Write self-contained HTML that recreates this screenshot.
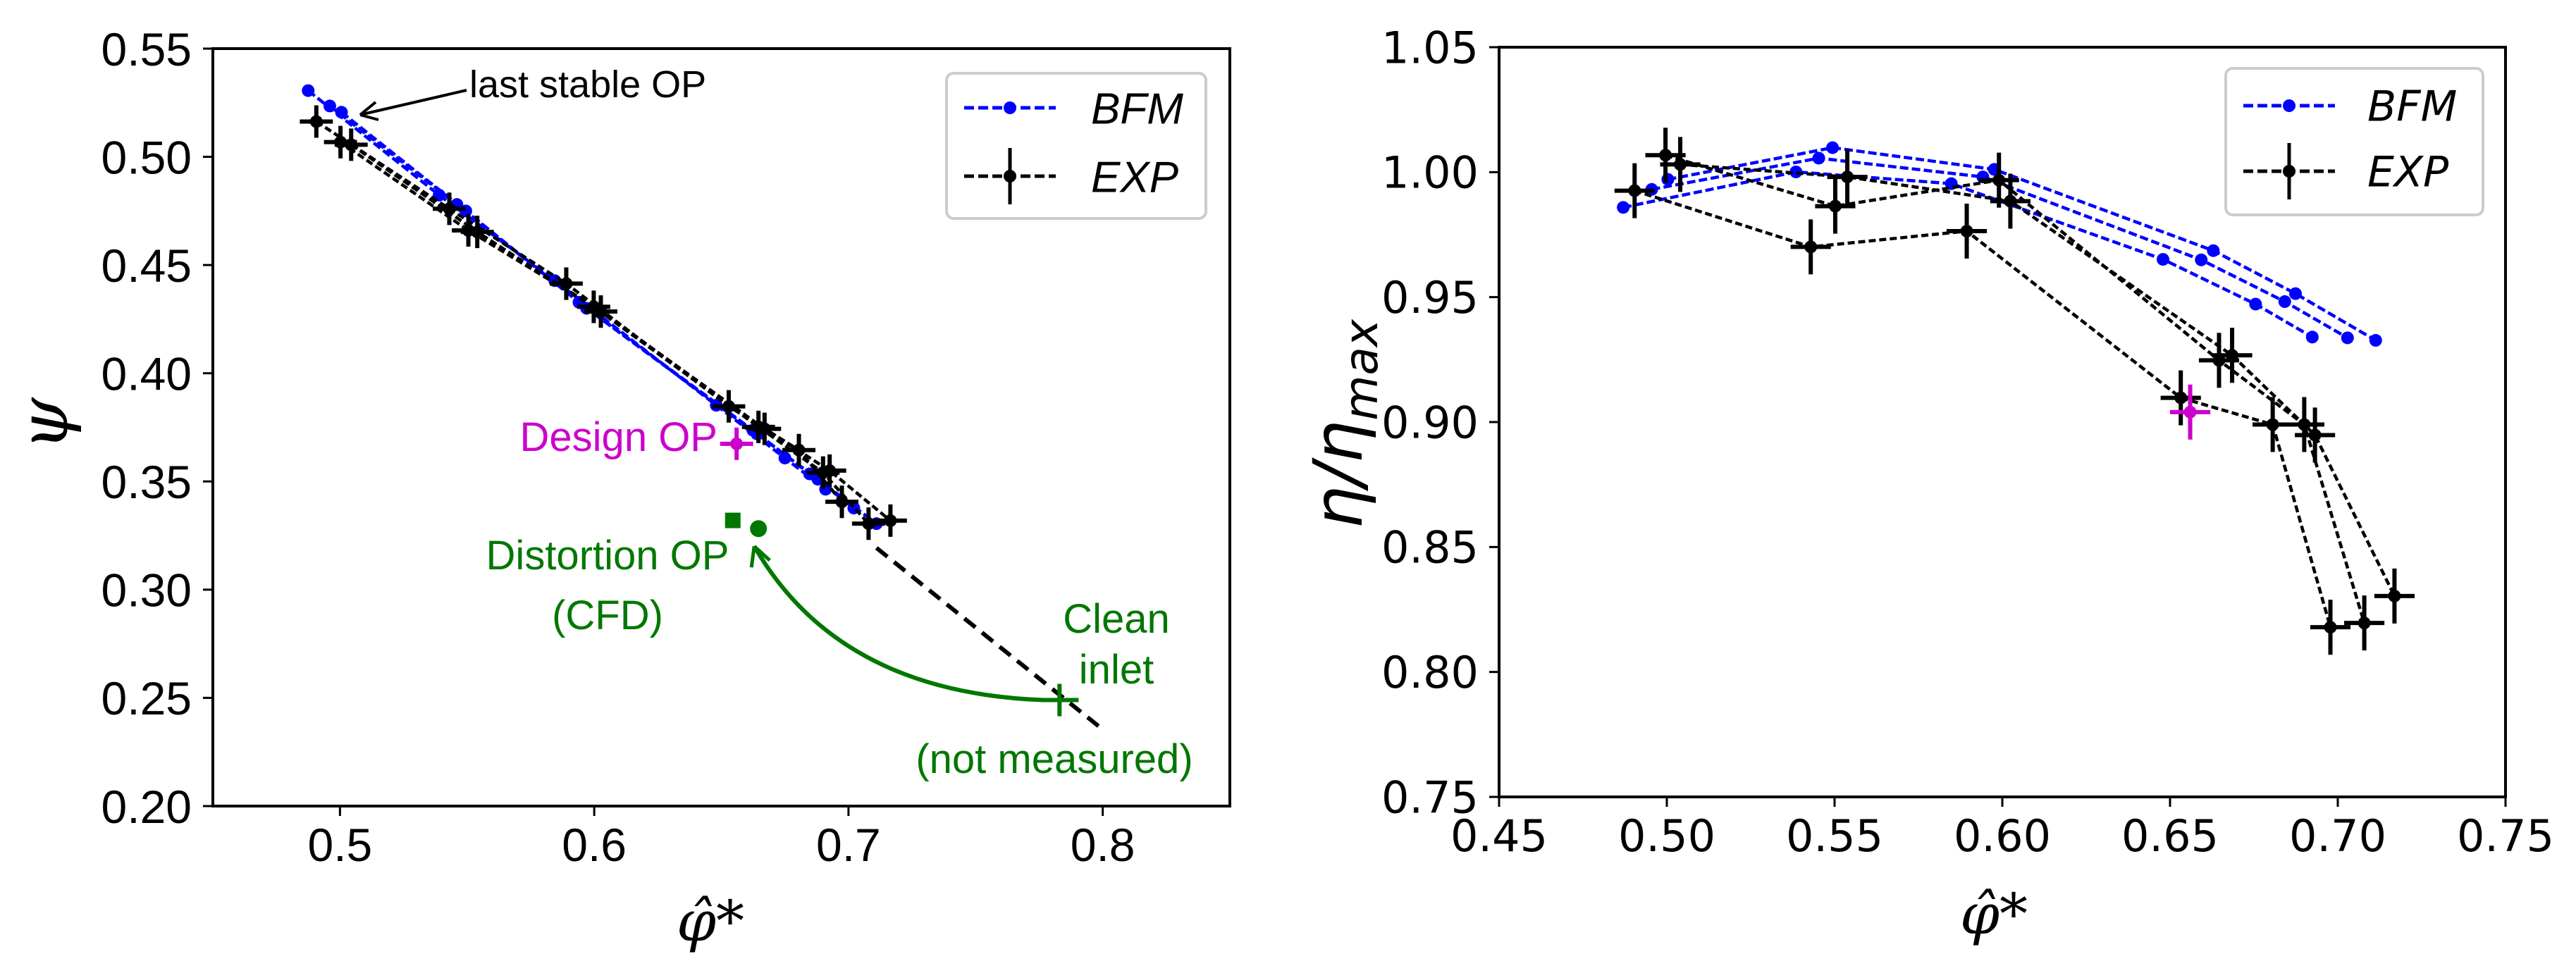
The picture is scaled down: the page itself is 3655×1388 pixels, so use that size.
<!DOCTYPE html>
<html><head><meta charset="utf-8">
<style>
html,body{margin:0;padding:0;background:#fff;}
svg{display:block;}
.tk{font-family:"Liberation Sans Narrow","Liberation Sans",sans-serif;}
.tk2{font-family:"DejaVu Sans","Liberation Sans",sans-serif;}
</style></head>
<body>
<svg id="fig" width="3655" height="1388" viewBox="0 0 3655 1388" xmlns="http://www.w3.org/2000/svg">
<g id="left"></g>
<g id="right"></g>
</svg>
<script>
// ---------- LEFT CHART DATA ----------
const leftXTicks = [0.5, 0.6, 0.7, 0.8];
const leftXTickLabels = ["0.5", "0.6", "0.7", "0.8"];
const leftYTicks = [0.20, 0.25, 0.30, 0.35, 0.40, 0.45, 0.50, 0.55];
const leftYTickLabels = ["0.20", "0.25", "0.30", "0.35", "0.40", "0.45", "0.50", "0.55"];
const leftBfmX1 = [0.4875, 0.539, 0.5845, 0.648, 0.675, 0.691];
const leftBfmY1 = [0.5306, 0.4823, 0.4428, 0.3852, 0.3608, 0.3464];
const leftBfmX2 = [0.496, 0.546, 0.594, 0.6624, 0.6847, 0.7021];
const leftBfmY2 = [0.5235, 0.478, 0.4328, 0.3737, 0.3535, 0.3377];
const leftBfmX3 = [0.5006, 0.5495, 0.597, 0.664, 0.688, 0.711];
const leftBfmY3 = [0.5206, 0.475, 0.430, 0.372, 0.351, 0.3305];
const leftExpXA = [0.4907, 0.543, 0.589, 0.6529, 0.6805, 0.6974];
const leftExpYA = [0.5163, 0.476, 0.4414, 0.3847, 0.3645, 0.3406];
const leftExpXB = [0.5002, 0.5505, 0.5998, 0.6646, 0.690, 0.7079];
const leftExpYB = [0.5068, 0.466, 0.4307, 0.3752, 0.3541, 0.3305];
const leftExpXC = [0.5044, 0.554, 0.6026, 0.667, 0.6926, 0.7165];
const leftExpYC = [0.5056, 0.4653, 0.4285, 0.3743, 0.3550, 0.3319];
const leftDesignOP = [0.656, 0.3674];
const leftDistSquare = [0.6545, 0.332];
const leftDistCircle = [0.6646, 0.3282];
const leftClean = [0.783, 0.249];
const leftCleanLineX = [0.711, 0.8];
const leftCleanLineY = [0.3193, 0.2354];

// ---------- RIGHT CHART DATA ----------
const rightXTicks = [0.45, 0.50, 0.55, 0.60, 0.65, 0.70, 0.75];
const rightXTickLabels = ["0.45", "0.50", "0.55", "0.60", "0.65", "0.70", "0.75"];
const rightYTicks = [0.75, 0.80, 0.85, 0.90, 0.95, 1.00, 1.05];
const rightYTickLabels = ["0.75", "0.80", "0.85", "0.90", "0.95", "1.00", "1.05"];
const rightBfmX1 = [0.487, 0.5385, 0.5848, 0.6479, 0.6755, 0.6924];
const rightBfmY1 = [0.9859, 1.0001, 0.9954, 0.9651, 0.9472, 0.934];
const rightBfmX2 = [0.4955, 0.5453, 0.5942, 0.6593, 0.6842, 0.7029];
const rightBfmY2 = [0.9931, 1.0056, 0.9981, 0.9649, 0.9482, 0.9337];
const rightBfmX3 = [0.5003, 0.5494, 0.5976, 0.6629, 0.6874, 0.7113];
const rightBfmY3 = [0.9971, 1.0098, 1.0011, 0.9686, 0.9514, 0.9327];
const rightExpXA = [0.4904, 0.5429, 0.5894, 0.6532, 0.6806, 0.6978];
const rightExpYA = [0.9926, 0.9701, 0.9764, 0.9097, 0.899, 0.8179];
const rightExpXB = [0.4996, 0.5502, 0.599, 0.6646, 0.690, 0.7079];
const rightExpYB = [1.0068, 0.9864, 0.9968, 0.9247, 0.899, 0.8196];
const rightExpXC = [0.504, 0.5538, 0.6024, 0.6685, 0.6932, 0.7169];
const rightExpYC = [1.0031, 0.9981, 0.9884, 0.9267, 0.8948, 0.8304];
const rightDesignOP = [0.656, 0.904];

const NS = "http://www.w3.org/2000/svg";
function mk(parent, tag, attrs, text) {
  const e = document.createElementNS(NS, tag);
  for (const k in attrs) e.setAttribute(k, attrs[k]);
  if (text !== undefined) e.textContent = text;
  parent.appendChild(e);
  return e;
}
function lin(d0, d1, r0, r1) { return v => r0 + (v - d0) / (d1 - d0) * (r1 - r0); }

function drawAxes(g, box, sx, sy, xt, xtl, yt, ytl, cls, fs, xLabY, yLabX) {
  const r = mk(g, 'rect', {x: box.l, y: box.t, width: box.r - box.l, height: box.b - box.t, fill: 'none', stroke: '#000', 'stroke-width': 4});
  
  
  xt.forEach((v, i) => {
    const x = sx(v);
    const t = mk(g, 'line', {x1: x, y1: box.b, x2: x, y2: box.b + 14, stroke: '#000', 'stroke-width': 3});
    
    
    const l = mk(g, 'text', {x: x, y: xLabY, 'text-anchor': 'middle', 'font-size': fs, class: cls}, xtl[i]);
    
    
  });
  yt.forEach((v, i) => {
    const y = sy(v);
    const t = mk(g, 'line', {x1: box.l - 14, y1: y, x2: box.l, y2: y, stroke: '#000', 'stroke-width': 3});
    
    
    const l = mk(g, 'text', {x: yLabX, y: y + fs * 0.36, 'text-anchor': 'end', 'font-size': fs, class: cls}, ytl[i]);
    
    
  });
}
function series(g, xs, ys, sx, sy, color, dash, r, name) {
  const pts = xs.map((v, i) => sx(v) + ',' + sy(ys[i])).join(' ');
  const pl = mk(g, 'polyline', {points: pts, fill: 'none', stroke: color, 'stroke-width': 4.5, 'stroke-dasharray': dash});
  
  
  xs.forEach((v, i) => {
    const c = mk(g, 'circle', {cx: sx(v), cy: sy(ys[i]), r: r, fill: color});
    
    
  });
}
function errs(g, xs, ys, sx, sy, ex, ey, color, name) {
  xs.forEach((v, i) => {
    const x = sx(v), y = sy(ys[i]);
    const e1 = mk(g, 'line', {x1: sx(v - ex), y1: y, x2: sx(v + ex), y2: y, stroke: color, 'stroke-width': 6});
    
    
    const e2 = mk(g, 'line', {x1: x, y1: sy(ys[i] - ey), x2: x, y2: sy(ys[i] + ey), stroke: color, 'stroke-width': 6});
    
    
  });
}
function legend(g, x0, y0, w, h, lx1, lx2, tx, y1, y2, fs, cls) {
  const b = mk(g, 'rect', {x: x0, y: y0, width: w, height: h, rx: 10, fill: '#fff', stroke: '#ccc', 'stroke-width': 4});
  
  
  const l1 = mk(g, 'line', {x1: lx1, y1: y1, x2: lx2, y2: y1, stroke: '#00f', 'stroke-width': 5, 'stroke-dasharray': '14 6'});
  
  
  const c1 = mk(g, 'circle', {cx: (lx1 + lx2) / 2, cy: y1, r: 9, fill: '#00f'});
  
  
  const t1 = mk(g, 'text', {x: tx, y: y1 + fs * 0.36, 'font-size': fs, 'font-style': 'italic', class: cls}, 'BFM');
  
  
  const l2 = mk(g, 'line', {x1: lx1, y1: y2, x2: lx2, y2: y2, stroke: '#000', 'stroke-width': 5, 'stroke-dasharray': '14 6'});
  
  
  const m = (lx1 + lx2) / 2;
  const e1 = mk(g, 'line', {x1: m, y1: y2 - 40, x2: m, y2: y2 + 40, stroke: '#000', 'stroke-width': 5});
  
  
  const c2 = mk(g, 'circle', {cx: m, cy: y2, r: 9, fill: '#000'});
  
  
  const t2 = mk(g, 'text', {x: tx, y: y2 + fs * 0.36, 'font-size': fs, 'font-style': 'italic', class: cls}, 'EXP');
  
  
}

// ===== LEFT =====
(function () {
  const g = document.getElementById('left');
  const box = {l: 302, r: 1745, t: 69, b: 1144};
  const sx = lin(0.45, 0.85, box.l, box.r);
  const sy = lin(0.55, 0.20, box.t, box.b);
  const cl = mk(g, 'line', {x1: sx(leftCleanLineX[0]), y1: sy(leftCleanLineY[0]), x2: sx(leftCleanLineX[1]), y2: sy(leftCleanLineY[1]), stroke: '#000', 'stroke-width': 6, 'stroke-dasharray': '20 12'});
  
  
  series(g, leftBfmX1, leftBfmY1, sx, sy, '#00f', '12 5', 9, 'bfm-1');
  series(g, leftBfmX2, leftBfmY2, sx, sy, '#00f', '12 5', 9, 'bfm-2');
  series(g, leftBfmX3, leftBfmY3, sx, sy, '#00f', '12 5', 9, 'bfm-3');
  [[leftExpXA, leftExpYA], [leftExpXB, leftExpYB], [leftExpXC, leftExpYC]].forEach((s, k) => {
    series(g, s[0], s[1], sx, sy, '#000', '10 5', 9, 'exp-' + (k + 1));
    errs(g, s[0], s[1], sx, sy, 0.0065, 0.0075, '#000', 'exp-' + (k + 1));
  });
  errs(g, [leftDesignOP[0]], [leftDesignOP[1]], sx, sy, 0.0065, 0.0075, '#c0c', 'design-op');
  const dc = mk(g, 'circle', {cx: sx(leftDesignOP[0]), cy: sy(leftDesignOP[1]), r: 9, fill: '#c0c'});
  
  
  const dt = mk(g, 'text', {x: 1018, y: 640, 'text-anchor': 'end', 'font-size': 58, fill: '#c0c', class: 'tk'}, 'Design OP');
  
  
  const sq = mk(g, 'rect', {x: sx(leftDistSquare[0]) - 11, y: sy(leftDistSquare[1]) - 11, width: 22, height: 22, fill: '#070'});
  
  
  const ci = mk(g, 'circle', {cx: sx(leftDistCircle[0]), cy: sy(leftDistCircle[1]), r: 12, fill: '#070'});
  
  
  errs(g, [leftClean[0]], [leftClean[1]], sx, sy, 0.0075, 0.0075, '#070', 'clean-inlet');
  const x0 = sx(leftClean[0]) - 22, y0 = sy(leftClean[1]);
  const x1 = sx(leftDistCircle[0]) - 6, y1 = sy(leftDistCircle[1]) + 25;
  const ar = mk(g, 'path', {d: `M${x0},${y0} Q${x1 + 120},${y0 - 10} ${x1},${y1}`, fill: 'none', stroke: '#070', 'stroke-width': 6});
  
  
  const ah = mk(g, 'path', {d: `M${x1},${y1} l-4,30 M${x1},${y1} l22,20`, fill: 'none', stroke: '#070', 'stroke-width': 5});
  
  
  [['Distortion OP', 862, 808, 'distortion-op-label'], ['(CFD)', 862, 893, 'cfd-label'], ['Clean', 1584, 898, 'clean-label'], ['inlet', 1584, 970, 'inlet-label'], ['(not measured)', 1496, 1097, 'not-measured-label']].forEach(a => {
    const t = mk(g, 'text', {x: a[1], y: a[2], 'text-anchor': 'middle', 'font-size': 58, fill: '#070', class: 'tk'}, a[0]);
    
    
  });
  const la = mk(g, 'line', {x1: 662, y1: 128, x2: 515, y2: 162, stroke: '#000', 'stroke-width': 4});
  
  
  const lh = mk(g, 'path', {d: 'M511,163 l22,-18 M511,163 l26,7', fill: 'none', stroke: '#000', 'stroke-width': 4});
  
  
  const lt = mk(g, 'text', {x: 666, y: 138, 'font-size': 54, class: 'tk'}, 'last stable OP');
  
  
  drawAxes(g, box, sx, sy, leftXTicks, leftXTickLabels, leftYTicks, leftYTickLabels, 'tk', 66, 1222, 272);
  legend(g, 1343, 104, 368, 206, 1368, 1498, 1548, 153, 250, 62, 'tk');
  const xl = mk(g, 'text', {x: 1008, y: 1335, 'text-anchor': 'middle', 'font-size': 80, 'font-style': 'italic', 'font-family': 'DejaVu Serif, serif'}, 'φ̂*');
  
  
  const yl = mk(g, 'text', {x: 95, y: 602, 'text-anchor': 'middle', 'font-size': 96, 'font-style': 'italic', transform: 'rotate(-90 95 602)', 'font-family': 'DejaVu Serif, serif'}, 'ψ');
  
  
})();

// ===== RIGHT =====
(function () {
  const g = document.getElementById('right');
  const box = {l: 2127, r: 3555, t: 67, b: 1131};
  const sx = lin(0.45, 0.75, box.l, box.r);
  const sy = lin(1.05, 0.75, box.t, box.b);
  series(g, rightBfmX1, rightBfmY1, sx, sy, '#00f', '12 5', 9, 'bfm-1');
  series(g, rightBfmX2, rightBfmY2, sx, sy, '#00f', '12 5', 9, 'bfm-2');
  series(g, rightBfmX3, rightBfmY3, sx, sy, '#00f', '12 5', 9, 'bfm-3');
  [[rightExpXA, rightExpYA], [rightExpXB, rightExpYB], [rightExpXC, rightExpYC]].forEach((s, k) => {
    series(g, s[0], s[1], sx, sy, '#000', '10 5', 9, 'exp-' + (k + 1));
    errs(g, s[0], s[1], sx, sy, 0.006, 0.011, '#000', 'exp-' + (k + 1));
  });
  errs(g, [rightDesignOP[0]], [rightDesignOP[1]], sx, sy, 0.006, 0.011, '#c0c', 'design-op');
  const dc = mk(g, 'circle', {cx: sx(rightDesignOP[0]), cy: sy(rightDesignOP[1]), r: 9, fill: '#c0c'});
  
  
  drawAxes(g, box, sx, sy, rightXTicks, rightXTickLabels, rightYTicks, rightYTickLabels, 'tk2', 62, 1208, 2098);
  legend(g, 3158, 97, 365, 208, 3183, 3313, 3359, 150, 243, 60, 'tk2');
  const xl = mk(g, 'text', {x: 2829, y: 1325, 'text-anchor': 'middle', 'font-size': 80, 'font-style': 'italic', 'font-family': 'DejaVu Serif, serif'}, 'φ̂*');
  
  
  const yl = mk(g, 'text', {x: 1932, y: 602, 'text-anchor': 'middle', 'font-size': 96, 'font-style': 'italic', transform: 'rotate(-90 1932 602)', class: 'tk2'});
  
  
  mk(yl, 'tspan', {}, 'η/η');
  mk(yl, 'tspan', {'font-size': 66, dy: 22}, 'max');
})();
</script>
</body></html>
